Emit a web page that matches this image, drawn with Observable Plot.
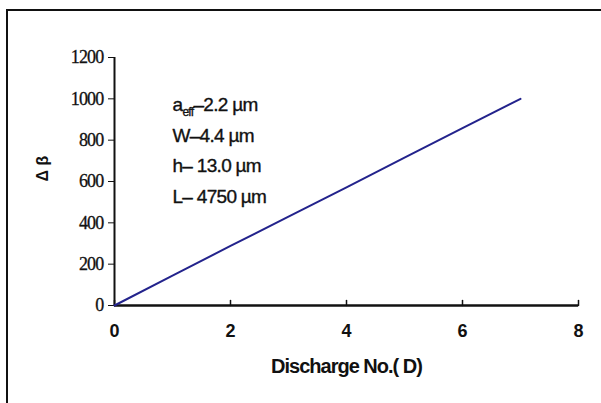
<!DOCTYPE html>
<html><head><meta charset="utf-8">
<script src="https://cdn.jsdelivr.net/npm/d3@7"></script>
<script src="https://cdn.jsdelivr.net/npm/@observablehq/plot@0.6"></script>
<style>
body{margin:0;background:#fff;}
#wrap{position:relative;width:601px;height:403px;overflow:hidden;background:#fff;}
#frame{position:absolute;left:6px;top:9px;width:700px;height:500px;border-left:2.5px solid #111;border-top:2.5px solid #111;pointer-events:none;}
#wrap svg{position:absolute;left:0;top:0;}
</style></head><body><div id="wrap"><div id="frame"></div></div>
<script>
const discharge = [0, 1, 2, 3, 4, 5, 6, 7];
const deltaBeta = [0, 145, 288, 430, 572, 715, 858, 1000];
const xTicks = [0, 2, 4, 6, 8];
const yTicks = [0, 200, 400, 600, 800, 1000, 1200];
const xLabel = "Discharge No.( D)";
const yLabel = "\u0394 \u03B2";
const notes = ["a_eff\u20132.2 \u00B5m", "W\u20134.4 \u00B5m", "h\u2013 13.0 \u00B5m", "L\u2013 4750 \u00B5m"];
const noteX = [1, 1, 1, 1];
const noteY = [972, 822, 677, 527];

const data = discharge.map((d, i) => ({x: d, y: deltaBeta[i]}));
const noteData = notes.map((t, i) => ({t, x: noteX[i], y: noteY[i]}));
const upTick = {draw(context, l) { context.moveTo(0, 0); context.lineTo(0, -l); }};

const chart = Plot.plot({
  width: 601, height: 403,
  marginLeft: 114, marginRight: 23, marginTop: 57, marginBottom: 98,
  x: {domain: [0, 8]},
  y: {domain: [0, 1200]},
  style: {background: "transparent", color: "#111"},
  marks: [
    Plot.axisY({ticks: yTicks, tickSize: 6, tickPadding: 5, fontFamily: "Liberation Serif", fontSize: 18, label: null, tickFormat: d => String(d), className: "yax"}),
    Plot.axisX({ticks: xTicks, tickSize: 0, tickPadding: 19, fontFamily: "Liberation Sans", fontWeight: "bold", fontSize: 18, label: null, className: "xax"}),
    Plot.vector(xTicks, {x: d => d, y: 0, length: 5, rotate: 0, anchor: "start", shape: upTick, stroke: "#111", strokeWidth: 1.5}),
    Plot.ruleX([0], {stroke: "#111", strokeWidth: 2}),
    Plot.ruleY([0], {stroke: "#111", strokeWidth: 2.5}),
    Plot.line(data, {x: "x", y: "y", stroke: "#23238c", strokeWidth: 2}),
    Plot.text(noteData, {x: "x", y: "y", text: "t", textAnchor: "start", fontFamily: "Liberation Sans", fontSize: 19, fill: "#111", stroke: "#111", strokeWidth: 0.35, className: "notes"}),
    Plot.text([xLabel], {frameAnchor: "bottom", dy: 67, text: d => d, fontFamily: "Liberation Sans", fontWeight: "bold", fontSize: 20, fill: "#111", className: "xlab"}),
    Plot.text([yLabel], {frameAnchor: "left", dx: -72, rotate: -90, text: d => d, fontFamily: "Liberation Sans", fontWeight: "bold", fontSize: 16, fill: "#111"})
  ]
});
document.getElementById("wrap").appendChild(chart);

// subscript for a_eff
d3.select(chart).selectAll("text").each(function() {
  const s = this.textContent;
  if (s.startsWith("a_eff")) {
    const el = d3.select(this);
    el.text(null);
    el.append("tspan").text("a");
    el.append("tspan").attr("dy", 5).attr("font-size", 12).text("eff");
    el.append("tspan").attr("dy", -5).text(s.slice(5));
  }
});
d3.select(chart).selectAll(".notes text").style("letter-spacing", "-0.7px");
d3.select(chart).selectAll(".xlab text").style("letter-spacing", "-1px");
d3.select(chart).selectAll(".yax text").style("letter-spacing", "-0.8px").attr("stroke", "#111").attr("stroke-width", 0.3);
</script>
</body></html>
